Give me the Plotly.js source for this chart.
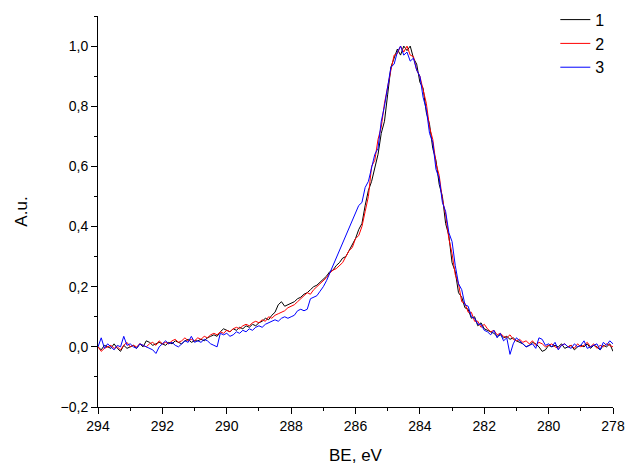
<!DOCTYPE html>
<html>
<head>
<meta charset="utf-8">
<script src="https://cdn.plot.ly/plotly-3.0.1.min.js"></script>
<style>html,body{margin:0;padding:0;background:#fff;}#chart{width:627px;height:471px;}</style>
</head>
<body>
<div id="chart"></div>
<script>
var be = [294.0,293.9,293.8,293.7,293.6,293.5,293.4,293.3,293.2,293.1,
293.0,292.9,292.8,292.7,292.6,292.5,292.4,292.3,292.2,292.1,
292.0,291.9,291.8,291.7,291.6,291.5,291.4,291.3,291.2,291.1,
291.0,290.9,290.8,290.7,290.6,290.5,290.4,290.3,290.2,290.1,
290.0,289.9,289.8,289.7,289.6,289.5,289.4,289.3,289.2,289.1,
289.0,288.9,288.8,288.7,288.6,288.5,288.4,288.3,288.2,288.1,
288.0,287.9,287.8,287.7,287.6,287.5,287.4,287.3,287.2,287.1,
287.0,286.9,286.8,286.7,286.6,286.5,286.4,286.3,286.2,286.1,
286.0,285.9,285.8,285.7,285.6,285.5,285.4,285.3,285.2,285.1,
285.0,284.9,284.8,284.7,284.6,284.5,284.4,284.3,284.2,284.1,
284.0,283.9,283.8,283.7,283.6,283.5,283.4,283.3,283.2,283.1,
283.0,282.9,282.8,282.7,282.6,282.5,282.4,282.3,282.2,282.1,
282.0,281.9,281.8,281.7,281.6,281.5,281.4,281.3,281.2,281.1,
281.0,280.9,280.8,280.7,280.6,280.5,280.4,280.3,280.2,280.1,
280.0,279.9,279.8,279.7,279.6,279.5,279.4,279.3,279.2,279.1,
279.0,278.9,278.8,278.7,278.6,278.5,278.4,278.3,278.2,278.1,
278.0];

var series1 = [0.00,-0.01,0.005,0.0,-0.005,0.01,-0.005,-0.015,0.005,-0.005,
0.0,0.005,-0.005,0.01,0.0,0.02,0.015,0.005,0.01,0.015,
0.01,0.005,0.015,0.01,0.02,0.015,0.01,0.02,0.025,0.015,
0.02,0.02,0.025,0.02,0.03,0.035,0.04,0.035,0.05,0.06,
0.055,0.05,0.06,0.055,0.065,0.06,0.07,0.065,0.075,0.07,
0.08,0.085,0.095,0.09,0.105,0.115,0.14,0.15,0.135,0.14,
0.145,0.15,0.16,0.165,0.175,0.18,0.19,0.2,0.205,0.215,
0.225,0.235,0.25,0.255,0.27,0.28,0.295,0.3,0.32,0.34,
0.36,0.39,0.41,0.47,0.52,0.55,0.6,0.64,0.71,0.75,
0.84,0.93,0.96,0.99,0.97,1.0,0.985,1.0,0.96,0.94,
0.88,0.86,0.78,0.74,0.66,0.62,0.54,0.5,0.41,0.37,
0.28,0.25,0.18,0.165,0.13,0.125,0.095,0.1,0.07,0.08,
0.06,0.055,0.05,0.045,0.035,0.04,0.03,0.035,0.025,0.03,
0.02,0.015,0.01,0.0,0.005,0.015,0.01,0.0,-0.015,-0.01,
0.005,0.0,0.005,0.0,0.01,-0.005,0.0,0.005,-0.01,0.0,
0.005,0.0,0.01,-0.005,0.005,0.0,-0.01,0.005,0.0,0.01,
-0.015];

var series2 = [0.0,-0.015,-0.005,0.0,0.005,-0.005,0.0,-0.01,0.005,0.015,
0.0,0.005,0.0,0.01,0.005,0.0,0.01,0.015,0.005,0.02,
0.01,0.015,0.01,0.02,0.025,0.015,0.02,0.03,0.02,0.025,
0.02,0.03,0.025,0.035,0.03,0.04,0.045,0.04,0.05,0.045,
0.055,0.05,0.06,0.065,0.06,0.07,0.075,0.07,0.08,0.085,
0.08,0.09,0.085,0.1,0.095,0.105,0.11,0.115,0.12,0.13,
0.135,0.14,0.15,0.16,0.17,0.18,0.175,0.19,0.2,0.21,
0.22,0.23,0.245,0.255,0.26,0.27,0.28,0.3,0.32,0.33,
0.36,0.37,0.40,0.45,0.5,0.6,0.62,0.69,0.73,0.81,
0.87,0.92,0.97,0.975,1.0,0.98,1.0,0.97,0.965,0.92,
0.9,0.85,0.81,0.73,0.69,0.61,0.57,0.49,0.44,0.36,
0.31,0.24,0.21,0.15,0.145,0.115,0.115,0.085,0.085,0.065,
0.075,0.06,0.05,0.055,0.04,0.045,0.035,0.03,0.04,0.025,
0.02,0.025,0.015,0.02,0.01,0.02,0.005,0.015,0.01,0.0,
0.005,0.01,0.0,-0.005,0.005,0.01,0.0,0.005,-0.005,0.01,
0.0,0.005,0.015,0.0,0.01,-0.005,0.005,0.0,0.01,0.005,
0.0];

var series3 = [0.0,0.03,-0.005,0.01,0.0,-0.01,0.005,0.0,0.035,0.005,
0.01,0.0,-0.005,0.01,0.005,0.0,-0.005,-0.01,-0.022,0.0,
0.01,0.02,0.01,0.015,0.005,0.0,0.01,0.02,0.015,0.035,
0.015,0.02,0.015,0.025,0.02,0.01,0.005,0.0,0.045,0.04,
0.045,0.035,0.04,0.05,0.045,0.055,0.05,0.06,0.055,0.065,
0.07,0.065,0.075,0.08,0.085,0.09,0.085,0.095,0.1,0.095,
0.1,0.105,0.12,0.125,0.12,0.125,0.16,0.165,0.17,0.185,
0.2,0.22,0.245,0.265,0.29,0.32,0.345,0.37,0.39,0.42,
0.44,0.47,0.48,0.53,0.55,0.6,0.64,0.66,0.75,0.8,
0.86,0.93,0.94,0.98,1.0,0.97,0.98,0.95,0.96,0.92,
0.9,0.83,0.79,0.71,0.68,0.59,0.56,0.48,0.45,0.38,
0.35,0.27,0.21,0.19,0.14,0.135,0.1,0.095,0.075,0.075,
0.055,0.05,0.04,0.055,0.03,0.045,0.02,0.03,-0.025,0.01,
0.03,0.02,0.01,0.0,0.005,0.01,-0.005,0.03,0.025,0.005,
0.01,0.0,0.015,-0.01,0.005,0.01,0.0,-0.005,0.01,0.0,
0.005,0.02,-0.005,0.0,0.005,0.01,-0.01,0.015,0.005,0.02,
0.01];

var names = ['1','2','3'];
var colors = ['#000000','#ff0000','#0000ff'];
var allSeries = [series1, series2, series3];

var traces = allSeries.map(function(s, i){
  return {x: be, y: s, type: 'scatter', mode: 'lines', name: names[i],
          line: {color: colors[i], width: 1}};
});

var fontFam = 'Liberation Sans, Arial, sans-serif';
var layout = {
  width: 627, height: 471,
  margin: {l: 98, r: 14, t: 16, b: 64, pad: 0, autoexpand: false},
  paper_bgcolor: '#fff', plot_bgcolor: '#fff',
  separators: ',.',
  font: {family: fontFam, size: 14, color: '#000'},
  showlegend: true,
  legend: {x: 0.888, xanchor: 'left', y: 1.034, yanchor: 'top',
           bgcolor: 'rgba(0,0,0,0)', font: {size: 16, family: fontFam},
           tracegroupgap: 0},
  xaxis: {range: [294, 278], tickvals: [294,292,290,288,286,284,282,280,278],
          ticks: 'outside', ticklen: 6, tickwidth: 1, tickcolor: '#000',
          showline: true, linecolor: '#000', linewidth: 1, mirror: false,
          showgrid: false, zeroline: false,
          minor: {dtick: 1, ticks: 'outside', ticklen: 3, tickcolor: '#000', showgrid: false},
          tickfont: {size: 14, family: fontFam},
          title: {text: 'BE, eV', font: {size: 17, family: fontFam}, standoff: 16}},
  yaxis: {range: [-0.2, 1.1], tick0: -0.2, dtick: 0.2, tickformat: '.1f',
          ticks: 'outside', ticklen: 6, tickwidth: 1, tickcolor: '#000',
          showline: true, linecolor: '#000', linewidth: 1,
          showgrid: false, zeroline: false,
          minor: {dtick: 0.1, ticks: 'outside', ticklen: 3, tickcolor: '#000', showgrid: false},
          tickfont: {size: 14, family: fontFam},
          title: {text: 'A.u.', font: {size: 17, family: fontFam}, standoff: 28}}
};

Plotly.newPlot('chart', traces, layout, {displayModeBar: false, staticPlot: true});
</script>
</body>
</html>
